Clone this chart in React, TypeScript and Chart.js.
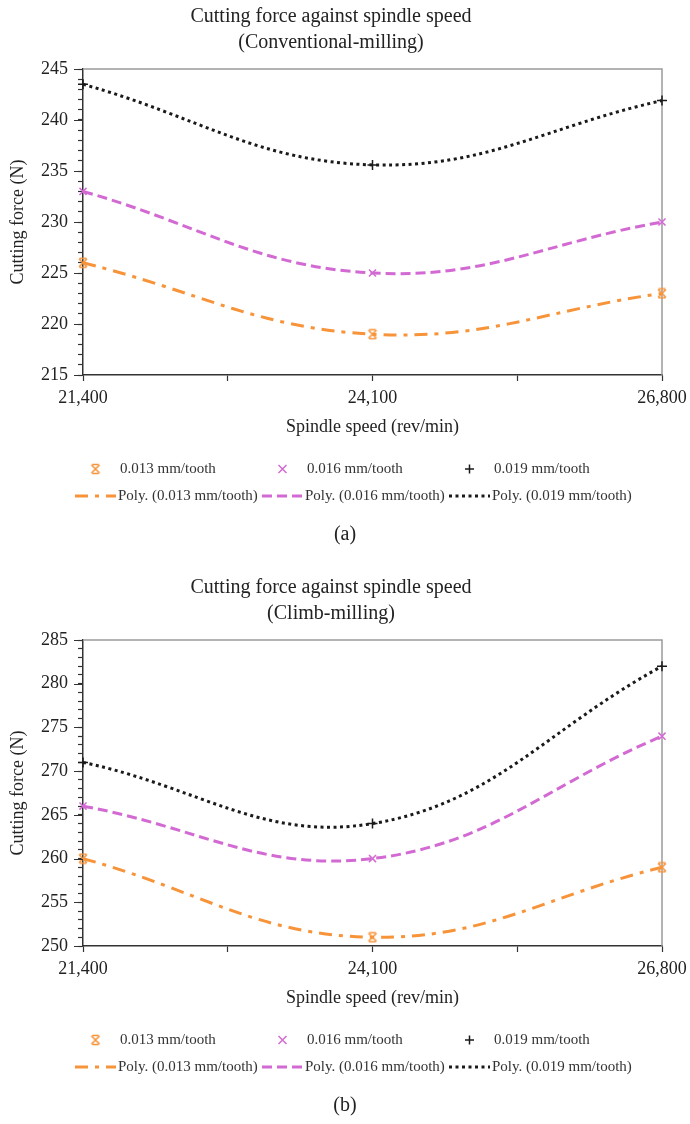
import React, { useEffect, useRef } from 'react';
import { Chart, registerables } from 'chart.js';

Chart.register(...registerables);

const FONT = '"Liberation Serif", "Times New Roman", serif';

// ---- data ----
const speeds = [21400, 24100, 26800];
const xTickLabels = ['21,400', '', '24,100', '', '26,800'];
const feedLabels = ['0.013 mm/tooth', '0.016 mm/tooth', '0.019 mm/tooth'];
const trendLabels = ['Poly. (0.013 mm/tooth)', 'Poly. (0.016 mm/tooth)', 'Poly. (0.019 mm/tooth)'];

const convF013 = [226, 219, 223];
const convF016 = [233, 225, 230];
const convF019 = [243.5, 235.6, 241.9];

const climbF013 = [260, 251, 259];
const climbF016 = [266, 260, 274];
const climbF019 = [271, 264, 282];

const convYLabels = [215, 220, 225, 230, 235, 240, 245];
const climbYLabels = [250, 255, 260, 265, 270, 275, 280, 285];

const convTitle = ['Cutting force against spindle speed', '(Conventional-milling)'];
const climbTitle = ['Cutting force against spindle speed', '(Climb-milling)'];

// ---- styles ----
const ORANGE = '#F7943A';
const MAGENTA = '#D36AD3';
const BLACK = '#1a1a1a';
const colors = [ORANGE, MAGENTA, BLACK];
const dashes = [[13, 7, 4, 7], [10, 5], [3, 3.5]];

function makeOrangeMarker(): HTMLCanvasElement {
  const c = document.createElement('canvas');
  c.width = 12;
  c.height = 12;
  const g = c.getContext('2d')!;
  g.strokeStyle = ORANGE;
  g.lineWidth = 1.6;
  g.beginPath();
  g.moveTo(2, 2); g.lineTo(10, 10);
  g.moveTo(10, 2); g.lineTo(2, 10);
  g.moveTo(2.5, 1.5); g.lineTo(9.5, 1.5);
  g.moveTo(2.5, 10.5); g.lineTo(9.5, 10.5);
  g.stroke();
  return c;
}

const framePlugin = {
  id: 'frame',
  beforeDatasetsDraw(chart: any) {
    const { ctx, chartArea: a } = chart;
    ctx.save();
    ctx.strokeStyle = '#9a9a9a';
    ctx.lineWidth = 1.5;
    ctx.beginPath();
    ctx.moveTo(a.left, a.top);
    ctx.lineTo(a.right, a.top);
    ctx.lineTo(a.right, a.bottom);
    ctx.stroke();
    ctx.restore();
  },
  afterDraw(chart: any, _args: any, opts: any) {
    const { ctx, chartArea: a } = chart;
    const yScale = chart.scales.y;
    // major y ticks
    ctx.save();
    ctx.strokeStyle = '#333';
    ctx.lineWidth = 1.2;
    ctx.beginPath();
    (opts.majors || []).forEach((v: number) => {
      const y = Math.round(yScale.getPixelForValue(v)) + 0.5;
      ctx.moveTo(a.left - 9, y);
      ctx.lineTo(a.left, y);
    });
    ctx.stroke();

    // legend
    const ds = chart.data.datasets;
    const base = a.bottom;
    const row1 = base + 94;
    const row2 = base + 121;
    const x0 = 75;
    const col = 187;
    const sw = 41;
    ctx.font = '15px ' + FONT;
    ctx.textBaseline = 'middle';
    ctx.textAlign = 'left';
    for (let i = 0; i < 3; i++) {
      const m = ds[i];
      const cx = x0 + i * col + sw / 2;
      const ps = m.pointStyle;
      ctx.strokeStyle = m.borderColor;
      ctx.lineWidth = m.borderWidth;
      ctx.setLineDash([]);
      if (typeof ps !== 'string') {
        ctx.drawImage(ps, cx - ps.width / 2, row1 - ps.height / 2);
      } else if (ps === 'crossRot') {
        const r = 4;
        ctx.beginPath();
        ctx.moveTo(cx - r, row1 - r); ctx.lineTo(cx + r, row1 + r);
        ctx.moveTo(cx + r, row1 - r); ctx.lineTo(cx - r, row1 + r);
        ctx.stroke();
      } else {
        const r = 4.5;
        ctx.beginPath();
        ctx.moveTo(cx - r, row1); ctx.lineTo(cx + r, row1);
        ctx.moveTo(cx, row1 - r); ctx.lineTo(cx, row1 + r);
        ctx.stroke();
      }
      ctx.fillStyle = '#333';
      ctx.fillText(m.label, x0 + i * col + sw + 4, row1);

      const t = ds[i + 3];
      ctx.strokeStyle = t.borderColor;
      ctx.lineWidth = t.borderWidth;
      ctx.setLineDash(t.borderDash);
      ctx.beginPath();
      ctx.moveTo(x0 + i * col, row2);
      ctx.lineTo(x0 + i * col + sw, row2);
      ctx.stroke();
      ctx.setLineDash([]);
      ctx.fillText(t.label, x0 + i * col + sw + 2, row2);
    }

    // caption
    ctx.font = '20px ' + FONT;
    ctx.textAlign = 'center';
    ctx.fillStyle = '#222';
    ctx.fillText(opts.caption, chart.width / 2, base + 160);
    ctx.restore();
  },
};

function buildConfig(
  title: string[],
  caption: string,
  series: number[][],
  yMin: number,
  yMax: number,
  yLabels: number[],
  orangeMarker: HTMLCanvasElement
): any {
  const pointStyles: any[] = [orangeMarker, 'crossRot', 'cross'];
  const markerSets = series.map((vals, i) => ({
    label: feedLabels[i],
    data: speeds.map((s, j) => ({ x: s, y: vals[j] })),
    showLine: false,
    pointStyle: pointStyles[i],
    pointRadius: 5,
    pointBorderWidth: 1.5,
    borderColor: colors[i],
    backgroundColor: colors[i],
    borderWidth: 1.5,
    clip: false,
  }));
  const trendSets = series.map((vals, i) => ({
    label: trendLabels[i],
    data: speeds.map((s, j) => ({ x: s, y: vals[j] })),
    showLine: true,
    tension: 0.4,
    pointRadius: 0,
    borderColor: colors[i],
    backgroundColor: colors[i],
    borderWidth: 3,
    borderDash: dashes[i],
    borderCapStyle: 'butt',
  }));
  return {
    type: 'scatter',
    data: { datasets: [...markerSets, ...trendSets] },
    options: {
      responsive: false,
      animation: false,
      devicePixelRatio: 1,
      layout: { padding: { left: 0, right: 28, top: 0, bottom: 122 } },
      plugins: {
        legend: { display: false },
        tooltip: { enabled: false },
        title: {
          display: true,
          text: title,
          color: '#222',
          font: { family: FONT, size: 20, weight: 'normal', lineHeight: 1.3 },
          padding: { top: 4, bottom: 13 },
        },
        frame: { caption, majors: yLabels },
      },
      scales: {
        x: {
          type: 'linear',
          min: speeds[0],
          max: speeds[speeds.length - 1],
          afterFit: (s: any) => {
            s.height = 63;
            s.paddingLeft = 0;
            s.paddingRight = 0;
          },
          ticks: {
            stepSize: 1350,
            autoSkip: false,
            maxRotation: 0,
            padding: 6,
            color: '#222',
            font: { family: FONT, size: 18 },
            callback: (_v: any, i: number) => xTickLabels[i] ?? '',
          },
          grid: {
            drawOnChartArea: false,
            drawTicks: true,
            tickLength: 6,
            tickColor: '#333',
            tickWidth: 1.2,
          },
          border: { display: true, color: '#333', width: 1.5 },
          title: {
            display: true,
            text: 'Spindle speed (rev/min)',
            color: '#222',
            font: { family: FONT, size: 18 },
            padding: { top: 1, bottom: 0 },
          },
        },
        y: {
          type: 'linear',
          min: yMin,
          max: yMax,
          afterFit: (s: any) => {
            s.width = 83;
          },
          ticks: {
            stepSize: 1,
            autoSkip: false,
            padding: 10,
            color: '#222',
            font: { family: FONT, size: 18 },
            callback: (v: any) => (yLabels.includes(v) ? String(v) : ''),
          },
          grid: {
            drawOnChartArea: false,
            drawTicks: true,
            tickLength: 5,
            tickColor: '#333',
            tickWidth: 1.2,
          },
          border: { display: true, color: '#333', width: 1.5 },
          title: {
            display: true,
            text: 'Cutting force (N)',
            color: '#222',
            font: { family: FONT, size: 18 },
            padding: { top: 7, bottom: 4 },
          },
        },
      },
    },
    plugins: [framePlugin],
  };
}

function ChartBlock(props: {
  title: string[];
  caption: string;
  series: number[][];
  yMin: number;
  yMax: number;
  yLabels: number[];
  top: number;
}) {
  const ref = useRef<HTMLCanvasElement | null>(null);
  useEffect(() => {
    if (!ref.current) return;
    const marker = makeOrangeMarker();
    const chart = new Chart(
      ref.current,
      buildConfig(props.title, props.caption, props.series, props.yMin, props.yMax, props.yLabels, marker)
    );
    return () => chart.destroy();
  }, []);
  return (
    <canvas
      ref={ref}
      width={690}
      height={560}
      style={{ position: 'absolute', left: 0, top: props.top, width: 690, height: 560 }}
    />
  );
}

export default function App() {
  return (
    <div style={{ position: 'absolute', left: 0, top: 0, width: 690, height: 1124, background: '#fff', overflow: 'hidden' }}>
      <ChartBlock
        title={convTitle}
        caption="(a)"
        series={[convF013, convF016, convF019]}
        yMin={215}
        yMax={245}
        yLabels={convYLabels}
        top={0}
      />
      <ChartBlock
        title={climbTitle}
        caption="(b)"
        series={[climbF013, climbF016, climbF019]}
        yMin={250}
        yMax={285}
        yLabels={climbYLabels}
        top={571}
      />
    </div>
  );
}
